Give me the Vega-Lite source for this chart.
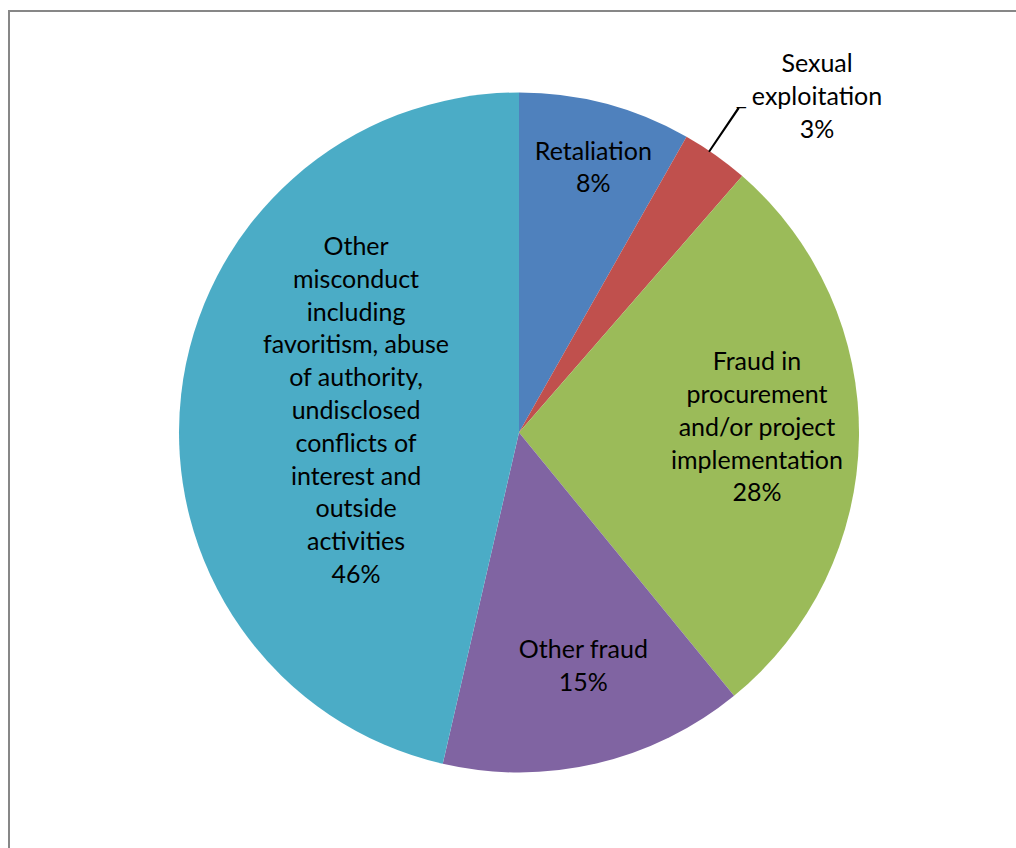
{
  "$schema": "https://vega.github.io/schema/vega-lite/v6.json",
  "width": 1020,
  "height": 843,
  "autosize": "none",
  "padding": {"left": 9, "top": 11, "right": -13, "bottom": -6},
  "background": "#ffffff",
  "view": {"stroke": "#878787", "strokeWidth": 2, "fill": "#ffffff"},
  "config": {
    "view": {"stroke": "#878787", "strokeWidth": 2},
    "text": {"font": "Lato", "fontSize": 25, "lineHeight": 32.8, "lineBreak": "\n", "align": "center", "baseline": "middle"}
  },
  "data": {
    "values": [
      {"category": "Retaliation", "value": 8.2, "label": "Retaliation\n8%"},
      {"category": "Sexual exploitation", "value": 3.2, "label": "Sexual\nexploitation\n3%"},
      {"category": "Fraud in procurement and/or project implementation", "value": 27.7, "label": "Fraud in\nprocurement\nand/or project\nimplementation\n28%"},
      {"category": "Other fraud", "value": 14.5, "label": "Other fraud\n15%"},
      {"category": "Other misconduct including favoritism, abuse of authority, undisclosed conflicts of interest and outside activities", "value": 46.4, "label": "Other\nmisconduct\nincluding\nfavoritism, abuse\nof authority,\nundisclosed\nconflicts of\ninterest and\noutside\nactivities\n46%"}
    ]
  },
  "transform": [{"window": [{"op": "row_number", "as": "rank"}]}],
  "layer": [
    {
      "mark": {"type": "arc", "radius": 340},
      "encoding": {
        "theta": {"field": "value", "type": "quantitative", "stack": true},
        "order": {"field": "rank", "type": "quantitative", "sort": "ascending"},
        "color": {
          "field": "category", "type": "nominal", "legend": null,
          "sort": ["Retaliation", "Sexual exploitation", "Fraud in procurement and/or project implementation", "Other fraud", "Other misconduct including favoritism, abuse of authority, undisclosed conflicts of interest and outside activities"],
          "scale": {"range": ["#4F81BD", "#C0504D", "#9BBB59", "#8064A2", "#4BACC6"]}
        }
      }
    },
    {
      "mark": {"type": "text", "radius": 276, "dx": 4, "dy": -14},
      "encoding": {
        "theta": {"field": "value", "type": "quantitative", "stack": true},
        "order": {"field": "rank", "type": "quantitative", "sort": "ascending"},
        "detail": {"field": "category"},
        "color": {"value": "#000000"},
        "text": {"field": "label"},
        "opacity": {"condition": {"test": "datum.category === 'Retaliation'", "value": 1}, "value": 0}
      }
    },
    {
      "mark": {"type": "text", "radius": 400, "dx": 67, "dy": -42},
      "encoding": {
        "theta": {"field": "value", "type": "quantitative", "stack": true},
        "order": {"field": "rank", "type": "quantitative", "sort": "ascending"},
        "detail": {"field": "category"},
        "color": {"value": "#000000"},
        "text": {"field": "label"},
        "opacity": {"condition": {"test": "datum.category === 'Sexual exploitation'", "value": 1}, "value": 0}
      }
    },
    {
      "mark": {"type": "text", "radius": 238, "dy": -74},
      "encoding": {
        "theta": {"field": "value", "type": "quantitative", "stack": true},
        "order": {"field": "rank", "type": "quantitative", "sort": "ascending"},
        "detail": {"field": "category"},
        "color": {"value": "#000000"},
        "text": {"field": "label"},
        "opacity": {"condition": {"test": "datum.category === 'Fraud in procurement and/or project implementation'", "value": 1}, "value": 0}
      }
    },
    {
      "mark": {"type": "text", "radius": 239, "dx": 10, "dy": -15},
      "encoding": {
        "theta": {"field": "value", "type": "quantitative", "stack": true},
        "order": {"field": "rank", "type": "quantitative", "sort": "ascending"},
        "detail": {"field": "category"},
        "color": {"value": "#000000"},
        "text": {"field": "label"},
        "opacity": {"condition": {"test": "datum.category === 'Other fraud'", "value": 1}, "value": 0}
      }
    },
    {
      "mark": {"type": "text", "radius": 164, "dy": -167},
      "encoding": {
        "theta": {"field": "value", "type": "quantitative", "stack": true},
        "order": {"field": "rank", "type": "quantitative", "sort": "ascending"},
        "detail": {"field": "category"},
        "color": {"value": "#000000"},
        "text": {"field": "label"},
        "opacity": {"condition": {"test": "datum.category === 'Other misconduct including favoritism, abuse of authority, undisclosed conflicts of interest and outside activities'", "value": 1}, "value": 0}
      }
    },
    {
      "transform": [{"filter": "datum.category === 'Sexual exploitation'"}],
      "mark": {"type": "arc", "theta": 0.592, "theta2": 0.598, "radius": 392, "radius2": 339, "color": "#000000"},
      "encoding": {}
    },
    {
      "transform": [{"filter": "datum.category === 'Sexual exploitation'"}],
      "mark": {"type": "text", "theta": 0.595, "radius": 392, "text": "—", "fontSize": 14, "fontWeight": "bold", "align": "left", "baseline": "middle", "dx": -3, "dy": 0, "color": "#000000"},
      "encoding": {}
    }
  ]
}
